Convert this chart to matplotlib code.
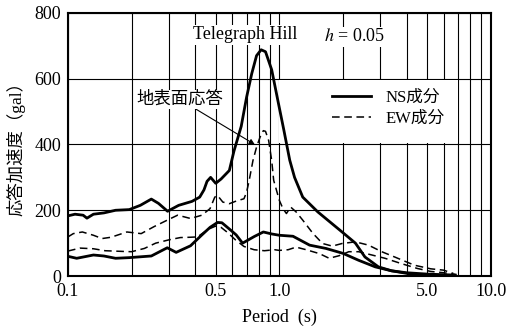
import numpy as np
import matplotlib
matplotlib.use("Agg")
import matplotlib.pyplot as plt
from matplotlib.patches import Rectangle

plt.rcParams['font.family'] = ['Liberation Serif', 'Noto Sans CJK JP']
plt.rcParams['mathtext.fontset'] = 'stix'

# surface response, NS
ns_up_x = [0.1, 0.108, 0.118, 0.123, 0.132, 0.148, 0.168, 0.195, 0.22, 0.248, 0.268, 0.296,
           0.334, 0.386, 0.42, 0.44, 0.455, 0.473, 0.5, 0.53, 0.58, 0.61, 0.66, 0.7, 0.74,
           0.78, 0.82, 0.86, 0.92, 0.99, 1.05, 1.12, 1.18, 1.29, 1.52, 1.98, 2.29, 2.54,
           2.94, 3.39, 4.2, 5.2, 6.7]
ns_up_y = [183, 188, 185, 176, 188, 192, 200, 202, 215, 234, 221, 197,
           215, 227, 240, 262, 288, 300, 282, 295, 321, 380, 455, 544, 615,
           670, 688, 682, 627, 525, 444, 352, 300, 240, 195, 134, 100, 58,
           28, 16, 6, 3, 2]

# surface response, EW
ew_up_x = [0.1, 0.106, 0.117, 0.132, 0.145, 0.16, 0.19, 0.222, 0.255, 0.295, 0.33, 0.345,
           0.38, 0.43, 0.47, 0.495, 0.51, 0.54, 0.58, 0.625, 0.68, 0.7, 0.72, 0.75, 0.78,
           0.81, 0.84, 0.86, 0.89, 0.92, 0.94, 0.97, 1.0, 1.04, 1.08, 1.13, 1.2, 1.29,
           1.44, 1.6, 1.78, 1.98, 2.29, 2.64, 3.05, 3.51, 4.35, 5.2, 5.97, 6.65]
ew_up_y = [119, 129, 134, 124, 114, 118, 134, 129, 150, 170, 185, 182,
           175, 185, 205, 240, 245, 225, 220, 228, 235, 255, 291, 351, 392,
           422, 442, 440, 412, 351, 291, 260, 230, 205, 190, 210, 195, 170,
           130, 99, 91, 99, 104, 94, 74, 58, 33, 22, 18, 8]

# lower NS
ns_lo_x = [0.1, 0.11, 0.132, 0.148, 0.168, 0.195, 0.248, 0.295, 0.325, 0.38, 0.43, 0.47,
           0.51, 0.535, 0.59, 0.625, 0.67, 0.76, 0.84, 0.92, 1.0, 1.16, 1.39, 1.66, 2.0,
           2.37, 2.84, 3.39, 4.0, 5.0, 6.0, 6.8]
ns_lo_y = [60, 54, 64, 61, 54, 56, 61, 86, 72, 92, 125, 148,
           163, 162, 139, 125, 100, 120, 134, 128, 124, 121, 94, 84, 69,
           48, 28, 16, 10, 6, 4, 3]

# lower EW
ew_lo_x = [0.1, 0.114, 0.132, 0.15, 0.18, 0.2, 0.23, 0.26, 0.3, 0.34, 0.38, 0.41, 0.46,
           0.5, 0.53, 0.57, 0.62, 0.68, 0.76, 0.85, 0.95, 1.0, 1.1, 1.2, 1.34, 1.55, 1.72,
           1.92, 2.13, 2.37, 2.74, 3.16, 3.77, 4.5, 5.2, 6.0, 6.8]
ew_lo_y = [76, 85, 83, 77, 75, 74, 84, 100, 110, 117, 118, 119, 142,
           152, 148, 132, 110, 90, 80, 77, 80, 78, 80, 88, 80, 68, 54,
           62, 74, 74, 64, 54, 38, 23, 14, 10, 5]

xticks = [0.1, 0.5, 1.0, 5.0, 10.0]
xtick_labels = ['0.1', '0.5', '1.0', '5.0', '10.0']
yticks = [0, 200, 400, 600, 800]

fig = plt.figure(figsize=(5.07, 3.31), dpi=100)
ax = fig.add_axes([0.134, 0.166, 0.834, 0.795])
ax.set_xscale('log')
ax.set_xlim(0.1, 10)
ax.set_ylim(0, 800)

minor = list(np.arange(0.2, 1.0, 0.1)) + list(np.arange(2, 10, 1))
ax.set_xticks(xticks)
ax.set_xticklabels(xtick_labels)
ax.set_xticks(minor, minor=True)
ax.set_yticks(yticks)
ax.tick_params(which='both', length=0, labelsize=13)
ax.tick_params(axis='x', pad=5)
ax.tick_params(axis='y', pad=5)
ax.set_axisbelow(True)
ax.grid(which='both', axis='x', color='black', lw=0.8)
ax.grid(which='major', axis='y', color='black', lw=0.8)
for s in ax.spines.values():
    s.set_linewidth(1.5)

# white area behind legend
ax.add_patch(Rectangle((1.0, 403), 6.0, 194, facecolor='white', edgecolor='none', zorder=1))

dash = (0, (5, 3))
ax.plot(ns_up_x, ns_up_y, color='black', lw=2.0, zorder=3, label='NS成分')
ax.plot(ew_up_x, ew_up_y, color='black', lw=1.1, ls=dash, zorder=3, label='EW成分')
ax.plot(ns_lo_x, ns_lo_y, color='black', lw=2.0, zorder=3)
ax.plot(ew_lo_x, ew_lo_y, color='black', lw=1.1, ls=dash, zorder=3)

leg = ax.legend(loc='center left', bbox_to_anchor=(0.59, 0.6375), frameon=False,
                fontsize=12, handlelength=2.3, handletextpad=0.9, labelspacing=0.3)

box = dict(facecolor='white', edgecolor='none', pad=1.0)
ax.text(0.69, 733, 'Telegraph Hill', ha='center', va='center', fontsize=13, bbox=box, zorder=4)
ax.text(2.26, 728, r'$h$ = 0.05', ha='center', va='center', fontsize=13, bbox=box, zorder=4)
ax.annotate('地表面応答', xy=(0.765, 400), xytext=(0.338, 537),
            ha='center', va='center', fontsize=12.5, bbox=box, zorder=4,
            arrowprops=dict(arrowstyle='-|>', color='black', lw=0.8,
                            shrinkA=0, shrinkB=0, mutation_scale=8))

ax.set_xlabel('Period  (s)', fontsize=13, labelpad=6)
ax.set_ylabel('応答加速度（gal）', fontsize=12.5, labelpad=6)

fig.savefig('out.png', dpi=100)
